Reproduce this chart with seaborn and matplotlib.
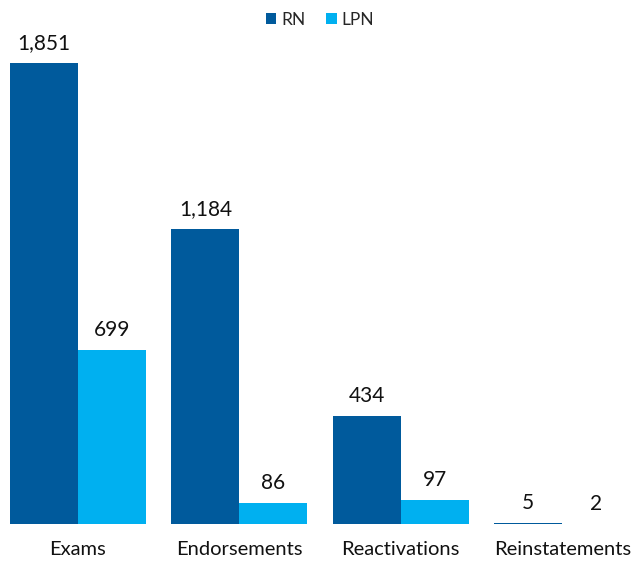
import pandas as pd
import seaborn as sns
import matplotlib.pyplot as plt

# data
categories = ["Exams", "Endorsements", "Reactivations", "Reinstatements"]
rn = [1851, 1184, 434, 5]
lpn = [699, 86, 97, 2]

df = pd.DataFrame({"Category": categories * 2,
                   "Type": ["RN"] * 4 + ["LPN"] * 4,
                   "Count": rn + lpn})

sns.set_style("white")
plt.rcParams["font.family"] = ["Lato", "DejaVu Sans"]

fig = plt.figure(figsize=(6.32, 5.62), dpi=100)
ax = fig.add_axes([10 / 632, 1 - 524 / 562, 620 / 632, 484 / 562])

sns.barplot(data=df, x="Category", y="Count", hue="Type",
            palette=["#005a9c", "#00b0f0"], width=0.84, gap=0,
            saturation=1, linewidth=0, ax=ax)

for cont in ax.containers:
    ax.bar_label(cont, labels=[f"{v:,.0f}" for v in cont.datavalues],
                 padding=7, fontsize=15, color="#111111")

ax.set_xlim(-0.42, 3.42)
ax.set_ylim(0, 1851 * 484 / 461)
ax.set_xlabel("")
ax.set_ylabel("")
ax.set_yticks([])
ax.tick_params(axis="x", length=0, pad=12, labelsize=14.5, labelcolor="#111111")
sns.despine(left=True, bottom=True)

ax.legend(loc="upper center", bbox_to_anchor=(0.5, 1 + 44 / 484), ncol=2,
          frameon=False, fontsize=12.5, handlelength=0.6, handleheight=0.6,
          handletextpad=0.3, columnspacing=1.2)

plt.savefig("out.png", dpi=100)
